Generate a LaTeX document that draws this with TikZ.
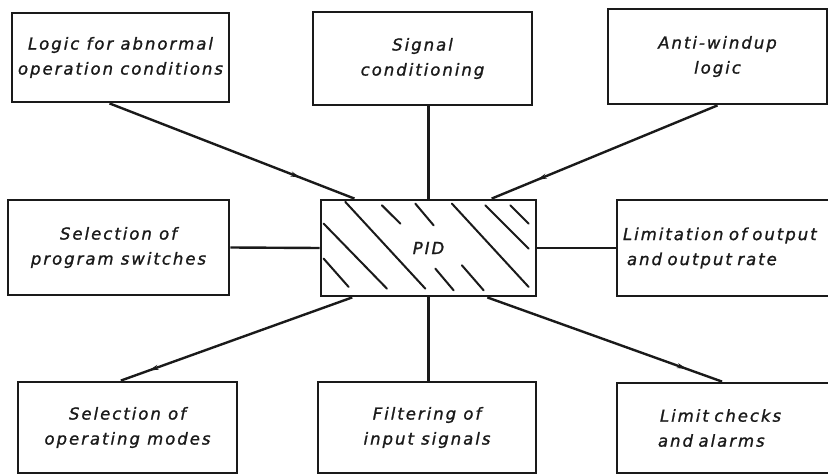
\documentclass[tikz,border=0pt]{standalone}
\usepackage{fontspec}
\newfontfamily\labfont{DejaVu Sans}[LetterSpace=12,FakeBold=1.2]
\usetikzlibrary{calc,decorations.markings,arrows.meta}
\definecolor{ink}{HTML}{1A1A1A}
\begin{document}
\begin{tikzpicture}[x=1pt,y=-1pt,
  box/.style={draw=ink,line width=2.8pt,rectangle,inner sep=0pt,
    font=\labfont\fontsize{16.5}{25}\selectfont\itshape,text=ink},
  conn/.style={draw=ink,line width=2.4pt},
  hatch/.style={draw=ink,line width=2pt,line cap=round},
  tipmark/.style={postaction={decorate},decoration={markings,
    mark=at position #1 with {\arrow{Stealth[length=10pt,width=5pt]}}}}
]
\useasboundingbox[fill=white] (0,0) rectangle (828,476);
% boxes
\node[box,minimum width=217pt,minimum height=89pt,align=center] (tl) at (120.5,57.5) {Logic for abnormal\\operation conditions};
\node[box,minimum width=219pt,minimum height=93pt,align=center] (tm) at (422.5,58.5) {Signal\\conditioning};
\node[box,minimum width=219pt,minimum height=95pt,align=center] (tr) at (717.5,56.5) {Anti-windup\\logic};
\node[box,minimum width=221pt,minimum height=95pt,align=center] (ml) at (118.5,247.5) {Selection of\\program switches};
\node[box,minimum width=215pt,minimum height=96pt] (pid) at (428.5,248) {PID};
\node[box,minimum width=219pt,minimum height=96pt,align=left,text width=207pt] (mr) at (726.5,248) {Limitation of output\\\hspace{4pt}and output rate};
\node[box,minimum width=219pt,minimum height=91pt,align=center] (bl) at (127.5,427.5) {Selection of\\operating modes};
\node[box,minimum width=218pt,minimum height=91pt,align=center] (bm) at (427,427.5) {Filtering of\\input signals};
\node[box,minimum width=219pt,minimum height=90pt,align=left,text width=205pt] (br) at (726.5,428) {\hspace{36pt}Limit checks\\\hspace{34pt}and alarms};
% hatching
\begin{scope}[shift={(pid.north west)}]
\draw[hatch] (25.7,3.3)--(105.7,90);
\draw[hatch] (4,25)--(67.3,90);
\draw[hatch] (4,60)--(29,88.3);
\draw[hatch] (62.3,6.7)--(80.7,25);
\draw[hatch] (95.7,5)--(114,26.7);
\draw[hatch] (132.3,5)--(209,88.3);
\draw[hatch] (165.7,6.7)--(209,50);
\draw[hatch] (190.7,6.7)--(209,25);
\draw[hatch] (115.7,70)--(134,91.7);
\draw[hatch] (142.3,66.7)--(164,91.7);
\end{scope}
% connectors
\draw[conn,tipmark=0.78] ($(tl.south west)!0.45!(tl.south east)$) -- ($(pid.north west)!0.16!(pid.north east)$);
\draw[conn] (tm.south -| pid.north) -- (pid.north);
\draw[conn,tipmark=0.8] (tr.south) -- ($(pid.north west)!0.79!(pid.north east)$);
\draw[conn] (ml.east) -- (pid.west);
\draw[conn] (pid.east) -- (mr.west);
\draw[conn,tipmark=0.88] ($(pid.south west)!0.15!(pid.south east)$) -- ($(bl.north west)!0.47!(bl.north east)$);
\draw[conn] (pid.south) -- (bm.north -| pid.south);
\draw[conn,tipmark=0.85] ($(pid.south west)!0.77!(pid.south east)$) -- ($(br.north west)!0.48!(br.north east)$);
\end{tikzpicture}
\end{document}
